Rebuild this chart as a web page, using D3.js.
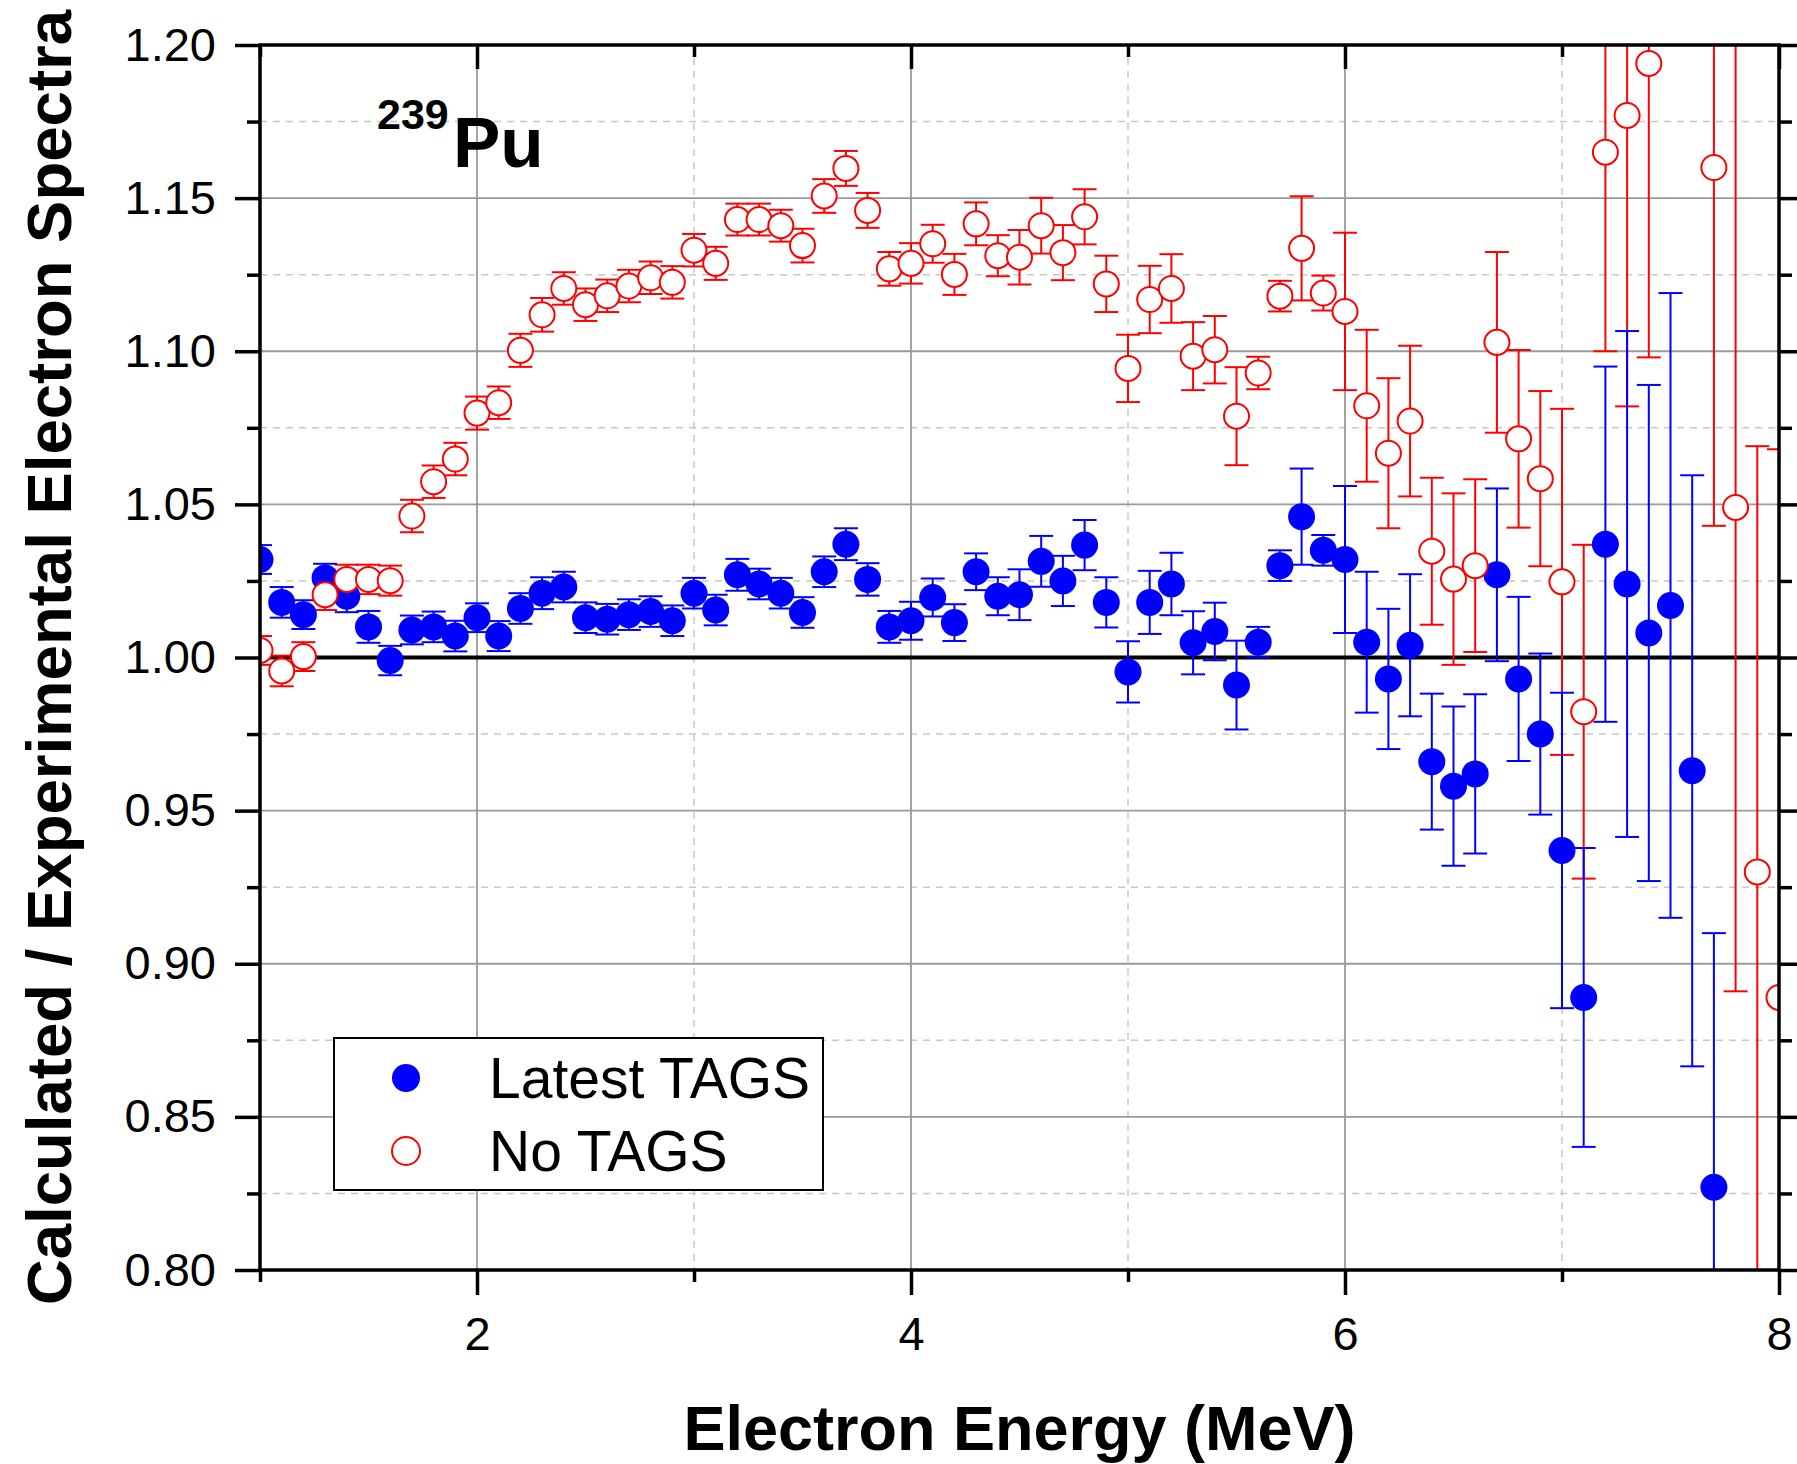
<!DOCTYPE html>
<html>
<head>
<meta charset="utf-8">
<script src="https://cdn.jsdelivr.net/npm/d3@7"></script>
<style>
  html, body { margin: 0; padding: 0; background: #fff; }
  svg { display: block; font-family: "Liberation Sans", Arial, sans-serif; }
</style>
</head>
<body>
<svg id="chart" width="1797" height="1464"></svg>
<script>
// electron energy bins (MeV)
var energy = [1.0, 1.1, 1.2, 1.3, 1.4, 1.5, 1.6, 1.7, 1.8, 1.9,
  2.0, 2.1, 2.2, 2.3, 2.4, 2.5, 2.6, 2.7, 2.8, 2.9,
  3.0, 3.1, 3.2, 3.3, 3.4, 3.5, 3.6, 3.7, 3.8, 3.9,
  4.0, 4.1, 4.2, 4.3, 4.4, 4.5, 4.6, 4.7, 4.8, 4.9,
  5.0, 5.1, 5.2, 5.3, 5.4, 5.5, 5.6, 5.7, 5.8, 5.9,
  6.0, 6.1, 6.2, 6.3, 6.4, 6.5, 6.6, 6.7, 6.8, 6.9,
  7.0, 7.1, 7.2, 7.3, 7.4, 7.5, 7.6, 7.7, 7.8, 7.9, 8.0];

// ratio with latest TAGS data
var latestTags = [1.032, 1.018, 1.014, 1.026, 1.020, 1.010, 0.999, 1.009, 1.010, 1.007,
  1.013, 1.007, 1.016, 1.021, 1.023, 1.013, 1.0125, 1.014, 1.015, 1.012,
  1.021, 1.0155, 1.027, 1.024, 1.021, 1.0147, 1.028, 1.037, 1.0255, 1.010,
  1.012, 1.0196, 1.0114, 1.028, 1.020, 1.0205, 1.0314, 1.025, 1.0367, 1.018,
  0.9953, 1.018, 1.024, 1.0048, 1.0085, 0.991, 1.005, 1.030, 1.046, 1.035,
  1.032, 1.005, 0.993, 1.004, 0.966, 0.958, 0.962, 1.027, 0.993, 0.975,
  0.937, 0.889, 1.037, 1.024, 1.008, 1.017, 0.963, 0.827, null, null, null];
var latestTagsErr = [0.0047, 0.005, 0.0047, 0.0046, 0.0052, 0.0052, 0.0048, 0.0047, 0.005, 0.005,
  0.0047, 0.0049, 0.005, 0.0052, 0.005, 0.005, 0.005, 0.005, 0.005, 0.005,
  0.005, 0.005, 0.0052, 0.005, 0.005, 0.005, 0.005, 0.0052, 0.0053, 0.0052,
  0.0062, 0.0062, 0.006, 0.006, 0.0062, 0.0083, 0.0083, 0.0082, 0.0082, 0.0082,
  0.010, 0.0103, 0.0102, 0.0103, 0.0094, 0.0145, 0.005, 0.005, 0.0157, 0.005,
  0.024, 0.023, 0.0229, 0.0232, 0.0222, 0.026, 0.026, 0.0282, 0.0268, 0.0263,
  0.0515, 0.0488, 0.058, 0.0826, 0.081, 0.102, 0.0965, 0.083, null, null, null];

// ratio without TAGS data
var noTags = [1.0023, 0.9956, 1.0003, 1.0205, 1.0255, 1.0255, 1.0251, 1.0462, 1.0574, 1.0648,
  1.0798, 1.0832, 1.1003, 1.1119, 1.1205, 1.1152, 1.1181, 1.1213, 1.124, 1.1225,
  1.133, 1.1287, 1.143, 1.143, 1.141, 1.1345, 1.1507, 1.1597, 1.146, 1.1269,
  1.1287, 1.1351, 1.1251, 1.1416, 1.1312, 1.1307, 1.141, 1.1322, 1.1439, 1.122,
  1.0944, 1.1169, 1.1205, 1.0984, 1.1005, 1.0788, 1.0929, 1.118, 1.1336, 1.119,
  1.113, 1.0822, 1.0667, 1.0772, 1.0347, 1.0256, 1.030, 1.1029, 1.0714, 1.0584,
  1.0247, 0.9823, 1.165, 1.177, 1.194, null, null, 1.160, 1.049, 0.930, 0.889];
var noTagsErr = [0.0047, 0.005, 0.0047, 0.005, 0.0048, 0.0048, 0.0049, 0.0053, 0.0053, 0.0053,
  0.0054, 0.0053, 0.0054, 0.0055, 0.0053, 0.0053, 0.0053, 0.0053, 0.0053, 0.0053,
  0.0053, 0.0054, 0.0052, 0.0052, 0.0052, 0.0055, 0.0055, 0.0057, 0.0057, 0.0055,
  0.0066, 0.0062, 0.0067, 0.007, 0.0067, 0.0089, 0.0091, 0.009, 0.009, 0.0092,
  0.011, 0.011, 0.0112, 0.0111, 0.011, 0.016, 0.0053, 0.005, 0.017, 0.0057,
  0.0257, 0.0248, 0.0245, 0.0246, 0.024, 0.028, 0.0282, 0.0295, 0.029, 0.0286,
  0.0565, 0.0545, 0.065, 0.095, 0.096, null, null, 0.117, 0.158, 0.139, 0.179];

var yMajorTicks = [0.80, 0.85, 0.90, 0.95, 1.00, 1.05, 1.10, 1.15, 1.20];
var yMinorTicks = [0.825, 0.875, 0.925, 0.975, 1.025, 1.075, 1.125, 1.175];
var xMajorTicks = [2, 4, 6, 8];
var xMinorTicks = [1, 3, 5, 7];
var legendLabels = ['Latest TAGS', 'No TAGS'];

var plot = { left: 260, right: 1779, top: 45, bottom: 1270 };
var svg = d3.select('#chart');

var x = d3.scaleLinear().domain([1, 8]).range([plot.left, plot.right]);
var y = d3.scaleLinear().domain([0.8, 1.2]).range([plot.bottom, plot.top]);

var toPoints = function(vals, errs) {
  return energy.map(function(e, i) {
    return { e: e, v: vals[i], err: errs[i] };
  }).filter(function(d) { return d.v !== null; });
};
var blueData = toPoints(latestTags, latestTagsErr);
var redData = toPoints(noTags, noTagsErr);

svg.append('clipPath').attr('id', 'plotClip')
  .append('rect')
  .attr('x', plot.left).attr('y', plot.top)
  .attr('width', plot.right - plot.left).attr('height', plot.bottom - plot.top);

// grid
var grid = svg.append('g');
grid.selectAll('.hminor').data(yMinorTicks).enter().append('line')
  .attr('x1', plot.left).attr('x2', plot.right)
  .attr('y1', function(d) { return y(d); }).attr('y2', function(d) { return y(d); })
  .attr('stroke', '#c8c8c8').attr('stroke-width', 1.5).attr('stroke-dasharray', '7,6');
grid.selectAll('.vminor').data(xMinorTicks.filter(function(d) { return d > 1; })).enter().append('line')
  .attr('y1', plot.top).attr('y2', plot.bottom)
  .attr('x1', function(d) { return x(d); }).attr('x2', function(d) { return x(d); })
  .attr('stroke', '#c8c8c8').attr('stroke-width', 1.5).attr('stroke-dasharray', '7,6');
grid.selectAll('.hmajor').data(yMajorTicks.filter(function(d) { return d > 0.81 && d < 1.19 && d !== 1.00; })).enter().append('line')
  .attr('x1', plot.left).attr('x2', plot.right)
  .attr('y1', function(d) { return y(d); }).attr('y2', function(d) { return y(d); })
  .attr('stroke', '#9a9a9a').attr('stroke-width', 1.8);
grid.selectAll('.vmajor').data(xMajorTicks.filter(function(d) { return d < 8; })).enter().append('line')
  .attr('y1', plot.top).attr('y2', plot.bottom)
  .attr('x1', function(d) { return x(d); }).attr('x2', function(d) { return x(d); })
  .attr('stroke', '#9a9a9a').attr('stroke-width', 1.8);

// reference line at 1.00
svg.append('line')
  .attr('x1', plot.left).attr('x2', plot.right)
  .attr('y1', y(1)).attr('y2', y(1))
  .attr('stroke', '#000').attr('stroke-width', 4);

// data
var dataG = svg.append('g').attr('clip-path', 'url(#plotClip)');
var capHalf = 12;

var drawErrors = function(data, colour) {
  var g = dataG.append('g').attr('stroke', colour).attr('stroke-width', 2).attr('fill', 'none');
  var bars = g.selectAll('g').data(data).enter().append('g');
  bars.append('line')
    .attr('x1', function(d) { return x(d.e); }).attr('x2', function(d) { return x(d.e); })
    .attr('y1', function(d) { return y(d.v - d.err); }).attr('y2', function(d) { return y(d.v + d.err); });
  bars.append('line')
    .attr('x1', function(d) { return x(d.e) - capHalf; }).attr('x2', function(d) { return x(d.e) + capHalf; })
    .attr('y1', function(d) { return y(d.v + d.err); }).attr('y2', function(d) { return y(d.v + d.err); });
  bars.append('line')
    .attr('x1', function(d) { return x(d.e) - capHalf; }).attr('x2', function(d) { return x(d.e) + capHalf; })
    .attr('y1', function(d) { return y(d.v - d.err); }).attr('y2', function(d) { return y(d.v - d.err); });
};

drawErrors(redData, '#ff0000');
drawErrors(blueData, '#0000ff');

dataG.append('g').selectAll('circle').data(blueData).enter().append('circle')
  .attr('cx', function(d) { return x(d.e); })
  .attr('cy', function(d) { return y(d.v); })
  .attr('r', 13.5)
  .attr('fill', '#0000ff');

dataG.append('g').selectAll('circle').data(redData).enter().append('circle')
  .attr('cx', function(d) { return x(d.e); })
  .attr('cy', function(d) { return y(d.v); })
  .attr('r', 12.5)
  .attr('fill', '#fff')
  .attr('stroke', '#ff0000')
  .attr('stroke-width', 2);

// axes
var styleAxis = function(g) {
  g.select('.domain').remove();
  g.selectAll('.tick line').attr('stroke', '#000').attr('stroke-width', 3.5);
  g.selectAll('.tick text')
    .attr('fill', '#000')
    .attr('font-size', 47)
    .attr('font-family', '"Liberation Sans", Arial, sans-serif');
};

var yFmt = d3.format('.2f');
svg.append('g').attr('transform', 'translate(' + plot.left + ',0)')
  .call(d3.axisLeft(y).tickValues(yMajorTicks).tickSize(25).tickPadding(19).tickFormat(yFmt))
  .call(styleAxis);
svg.append('g').attr('transform', 'translate(' + plot.left + ',0)')
  .call(d3.axisLeft(y).tickValues(yMinorTicks).tickSize(13).tickFormat(''))
  .call(styleAxis);
svg.append('g').attr('transform', 'translate(' + plot.right + ',0)')
  .call(d3.axisLeft(y).tickValues(yMajorTicks).tickSize(-25).tickFormat(''))
  .call(styleAxis);
svg.append('g').attr('transform', 'translate(' + plot.right + ',0)')
  .call(d3.axisLeft(y).tickValues(yMinorTicks).tickSize(-13).tickFormat(''))
  .call(styleAxis);

svg.append('g').attr('transform', 'translate(0,' + plot.bottom + ')')
  .call(d3.axisBottom(x).tickValues(xMajorTicks).tickSize(25).tickPadding(22).tickFormat(d3.format('d')))
  .call(styleAxis);
svg.append('g').attr('transform', 'translate(0,' + plot.bottom + ')')
  .call(d3.axisBottom(x).tickValues(xMinorTicks).tickSize(12).tickFormat(''))
  .call(styleAxis);
svg.append('g').attr('transform', 'translate(0,' + plot.top + ')')
  .call(d3.axisBottom(x).tickValues(xMajorTicks).tickSize(24).tickFormat(''))
  .call(styleAxis);
svg.append('g').attr('transform', 'translate(0,' + plot.top + ')')
  .call(d3.axisBottom(x).tickValues(xMinorTicks).tickSize(12).tickFormat(''))
  .call(styleAxis);

// frame
svg.append('rect')
  .attr('x', plot.left).attr('y', plot.top)
  .attr('width', plot.right - plot.left).attr('height', plot.bottom - plot.top)
  .attr('fill', 'none').attr('stroke', '#000').attr('stroke-width', 3.5);

// axis titles
svg.append('text')
  .attr('x', (plot.left + plot.right) / 2).attr('y', 1450)
  .attr('text-anchor', 'middle')
  .attr('font-size', 63).attr('font-weight', 'bold')
  .text('Electron Energy (MeV)');

svg.append('text')
  .attr('transform', 'translate(71,' + ((plot.top + plot.bottom) / 2) + ') rotate(-90)')
  .attr('text-anchor', 'middle')
  .attr('font-size', 63.5).attr('font-weight', 'bold')
  .text('Calculated / Experimental Electron Spectra');

// isotope label
var iso = svg.append('text').attr('font-weight', 'bold');
iso.append('tspan').attr('x', 377).attr('y', 129).attr('font-size', 43).text('239');
iso.append('tspan').attr('x', 453).attr('y', 167).attr('font-size', 71).text('Pu');

// legend
var legend = svg.append('g');
legend.append('rect')
  .attr('x', 334).attr('y', 1038).attr('width', 489).attr('height', 152)
  .attr('fill', '#fff').attr('stroke', '#000').attr('stroke-width', 2);
var legendRows = legend.selectAll('.row').data(legendLabels).enter().append('g')
  .attr('transform', function(d, i) { return 'translate(0,' + (1078 + i * 73) + ')'; });
legendRows.append('circle')
  .attr('cx', 406).attr('cy', 0).attr('r', 14)
  .attr('fill', function(d, i) { return i === 0 ? '#0000ff' : '#fff'; })
  .attr('stroke', function(d, i) { return i === 0 ? 'none' : '#ff0000'; })
  .attr('stroke-width', 2);
legendRows.append('text')
  .attr('x', 489).attr('y', 20)
  .attr('font-size', 57)
  .text(function(d) { return d; });
</script>
</body>
</html>
